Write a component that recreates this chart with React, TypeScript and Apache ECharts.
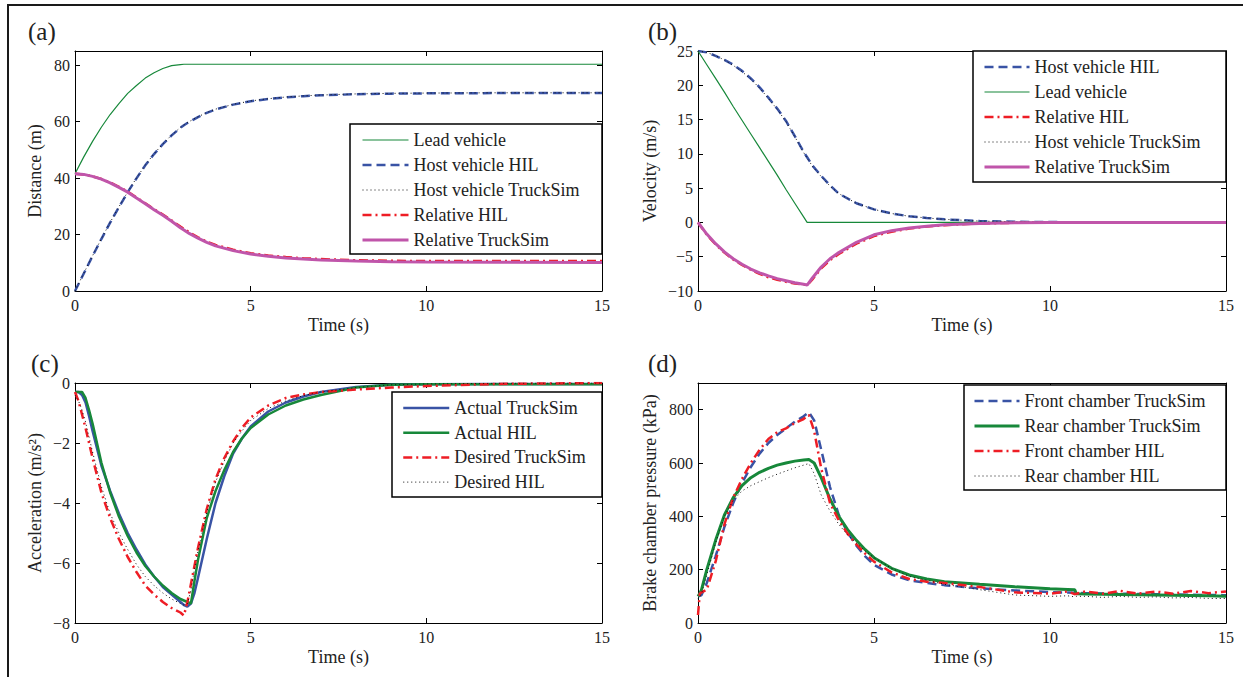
import React, { useEffect, useRef } from "react";
import * as echarts from "echarts";

const FONT = "'Liberation Serif', 'Times New Roman', serif";

// ---------- Panel (a): distance ----------
const tA = [0, 0.25, 0.5, 0.75, 1, 1.25, 1.5, 1.75, 2, 2.25, 2.5, 2.75, 3, 3.1, 3.25, 3.5, 3.75, 4, 4.5, 5, 5.5, 6, 6.5, 7, 8, 9, 10, 12, 15];
const leadDistance = [41.5, 47.5, 53, 58, 62.5, 66.4, 70, 72.8, 75.4, 77.3, 78.8, 79.8, 80.2, 80.3, 80.3, 80.3, 80.3, 80.3, 80.3, 80.3, 80.3, 80.3, 80.3, 80.3, 80.3, 80.3, 80.3, 80.3, 80.3];
const hostDistHIL = [0, 6.2, 12.4, 18.4, 24.2, 29.7, 35, 39.9, 44.5, 48.5, 52, 55.1, 57.8, 58.7, 59.9, 61.6, 63.1, 64.3, 66.0, 67.2, 68.0, 68.6, 69.0, 69.3, 69.7, 69.9, 70, 70.1, 70.1];
const hostDistTS = [0, 6.3, 12.5, 18.5, 24.3, 29.8, 35.1, 40.0, 44.6, 48.6, 52.1, 55.2, 57.9, 58.8, 60.0, 61.7, 63.2, 64.4, 66.1, 67.3, 68.1, 68.7, 69.1, 69.4, 69.8, 70, 70.1, 70.2, 70.2];
const relDistHIL = [41.5, 41.3, 40.6, 39.7, 38.4, 36.9, 35.2, 33.1, 31.1, 29.0, 27.1, 25.0, 22.8, 22.0, 20.8, 19.0, 17.5, 16.3, 14.6, 13.4, 12.6, 12.0, 11.6, 11.3, 10.9, 10.7, 10.6, 10.6, 10.6];
const relDistTS = [41.5, 41.3, 40.6, 39.6, 38.3, 36.7, 35.0, 32.9, 30.9, 28.8, 26.8, 24.7, 22.4, 21.6, 20.4, 18.7, 17.2, 16.0, 14.3, 13.1, 12.3, 11.7, 11.3, 11.0, 10.6, 10.4, 10.3, 10.2, 10.1];

// ---------- Panel (b): velocity ----------
const tB = [0, 0.25, 0.5, 0.75, 1, 1.25, 1.5, 1.75, 2, 2.25, 2.5, 2.75, 3, 3.1, 3.25, 3.5, 3.75, 4, 4.5, 5, 5.5, 6, 6.5, 7, 8, 9, 10, 12, 15];
const hostVelHIL = [25, 24.8, 24.3, 23.7, 23.0, 22.1, 21.0, 19.7, 18.2, 16.6, 14.8, 12.6, 10.3, 9.5, 8.3, 6.8, 5.4, 4.2, 2.8, 1.9, 1.3, 0.9, 0.65, 0.45, 0.2, 0.1, 0.05, 0, 0];
const hostVelTS = [25, 24.8, 24.3, 23.7, 22.9, 22.0, 20.9, 19.6, 18.1, 16.5, 14.7, 12.5, 10.2, 9.4, 8.2, 6.7, 5.3, 4.2, 2.8, 1.9, 1.3, 0.9, 0.65, 0.45, 0.2, 0.1, 0.05, 0, 0];
const leadVel = [25, 23, 21, 19, 16.9, 14.9, 12.9, 10.9, 8.9, 6.9, 4.8, 2.8, 0.8, 0, 0, 0, 0, 0, 0, 0, 0, 0, 0, 0, 0, 0, 0, 0, 0];
const relVelHIL = [0, -1.8, -3.2, -4.4, -5.4, -6.2, -6.9, -7.5, -8.0, -8.35, -8.65, -8.9, -9.05, -9.15, -8.3, -6.7, -5.5, -4.6, -3.1, -2.0, -1.35, -0.9, -0.6, -0.4, -0.15, -0.05, 0, 0, 0];
const relVelTS = [0, -1.7, -3.1, -4.3, -5.3, -6.1, -6.8, -7.35, -7.8, -8.2, -8.5, -8.8, -9.0, -9.15, -8.1, -6.5, -5.3, -4.4, -2.9, -1.8, -1.2, -0.8, -0.55, -0.35, -0.15, -0.05, 0, 0, 0];

// ---------- Panel (c): acceleration ----------
const tC = [0, 0.1, 0.2, 0.3, 0.4, 0.5, 0.75, 1, 1.25, 1.5, 1.75, 2, 2.25, 2.5, 2.75, 3, 3.1, 3.2, 3.3, 3.4, 3.5, 3.75, 4, 4.25, 4.5, 4.75, 5, 5.5, 6, 6.5, 7, 8, 9, 10, 12, 15];
const accActualTS = [-0.3, -0.3, -0.4, -0.65, -1.1, -1.6, -2.75, -3.6, -4.35, -5.0, -5.55, -6.05, -6.45, -6.8, -7.05, -7.3, -7.4, -7.45, -7.35, -7.0, -6.5, -5.2, -4.0, -3.1, -2.35, -1.85, -1.45, -0.95, -0.65, -0.45, -0.3, -0.13, -0.06, -0.04, -0.03, -0.03];
const accActualHIL = [-0.3, -0.3, -0.3, -0.5, -0.9, -1.35, -2.65, -3.65, -4.45, -5.1, -5.65, -6.1, -6.45, -6.75, -7.0, -7.2, -7.25, -7.3, -7.35, -6.6, -5.9, -4.5, -3.6, -2.9, -2.3, -1.85, -1.5, -1.05, -0.75, -0.55, -0.4, -0.15, -0.06, -0.04, -0.04, -0.04];
const accDesiredTS = [-0.3, -0.6, -1.05, -1.5, -2.0, -2.5, -3.65, -4.5, -5.2, -5.8, -6.3, -6.75, -7.05, -7.3, -7.5, -7.65, -7.75, -7.3, -6.7, -6.1, -5.5, -4.2, -3.2, -2.5, -1.95, -1.5, -1.15, -0.75, -0.5, -0.38, -0.3, -0.22, -0.15, -0.1, -0.03, 0];
const accDesiredHIL = [-0.4, -0.6, -0.9, -1.3, -1.8, -2.3, -3.45, -4.35, -5.0, -5.55, -6.05, -6.45, -6.75, -7.0, -7.2, -7.35, -7.4, -7.35, -6.9, -6.2, -5.6, -4.3, -3.3, -2.6, -2.0, -1.6, -1.25, -0.85, -0.6, -0.42, -0.3, -0.15, -0.06, -0.03, -0.01, 0];

// ---------- Panel (d): brake chamber pressure ----------
const tD = [0, 0.05, 0.1, 0.25, 0.5, 0.75, 1, 1.25, 1.5, 1.75, 2, 2.25, 2.5, 2.75, 3, 3.15, 3.3, 3.5, 3.75, 4, 4.25, 4.5, 4.75, 5, 5.5, 6, 6.5, 7, 8, 9, 10, 10.5, 10.7, 10.75, 11, 11.5, 12, 12.5, 13, 13.5, 14, 14.5, 15];
const frontTS = [100, 102, 105, 150, 250, 360, 450, 525, 585, 635, 675, 705, 730, 755, 775, 790, 760, 650, 510, 405, 340, 290, 250, 218, 182, 160, 150, 142, 130, 122, 116, 114, 113, 113, 112, 111, 110, 109, 108, 107, 106, 105, 104];
const rearTS = [100, 110, 125, 200, 310, 405, 470, 515, 545, 565, 580, 592, 600, 607, 611, 613, 600, 545, 465, 400, 350, 310, 275, 245, 205, 180, 165, 155, 145, 136, 128, 126, 125, 110, 109, 108, 107, 106, 105, 104, 103, 102, 100];
const frontHIL = [30, 110, 115, 125, 230, 370, 470, 540, 600, 650, 690, 715, 730, 750, 765, 780, 720, 580, 450, 385, 335, 295, 260, 230, 190, 165, 155, 150, 135, 115, 110, 118, 108, 110, 118, 110, 120, 110, 118, 110, 120, 112, 118];
const rearHIL = [90, 100, 110, 180, 300, 400, 460, 495, 515, 530, 545, 558, 570, 582, 592, 598, 560, 480, 420, 370, 330, 300, 270, 245, 205, 175, 160, 145, 125, 105, 100, 102, 98, 100, 100, 96, 100, 96, 98, 94, 96, 92, 92];

// ---------- axes ----------
const xTicks = { min: 0, max: 15, interval: 5 };
const yRanges = [
  { min: 0, max: 85, interval: 20 },
  { min: -10, max: 25, interval: 5 },
  { min: -8, max: 0, interval: 2 },
  { min: 0, max: 900, interval: 200 },
];
const yShowMax = [false, true, true, false];
const yNames = ["Distance (m)", "Velocity (m/s)", "Acceleration (m/s\u00B2)", "Brake chamber pressure (kPa)"];
const panelLabels = ["(a)", "(b)", "(c)", "(d)"];

const legendA = ["Lead vehicle", "Host vehicle HIL", "Host vehicle TruckSim", "Relative HIL", "Relative TruckSim"];
const legendB = ["Host vehicle HIL", "Lead vehicle", "Relative HIL", "Host vehicle TruckSim", "Relative TruckSim"];
const legendC = ["Actual TruckSim", "Actual HIL", "Desired TruckSim", "Desired HIL"];
const legendD = ["Front chamber TruckSim", "Rear chamber TruckSim", "Front chamber HIL", "Rear chamber HIL"];

const GREEN = "#17883a";
const BLUE = "#3953a5";
const RED = "#ee1d25";
const MAGENTA = "#c055aa";
const BLACK = "#111111";

const DASH = [9, 5];
const DASHDOT = [9, 4, 2, 4];
const DOT = [1, 3];

const fmt = (v: number) => (v < 0 ? "\u2212" + Math.abs(v) : String(v));

function mk(name: string, t: number[], v: number[], gi: number, color: string, width: number, type: any, z = 2) {
  return {
    type: "line",
    name,
    xAxisIndex: gi * 2,
    yAxisIndex: gi * 2,
    data: t.map((x, i) => [x, v[i]]),
    symbol: "none",
    color,
    lineStyle: { color, width, type },
    z,
    silent: true,
  };
}

export default function App() {
  const ref = useRef<HTMLDivElement>(null);
  useEffect(() => {
    document.body.style.margin = "0";
    if (!ref.current) return;
    const chart = echarts.init(ref.current, undefined, { renderer: "svg" });

    const grids = [
      { left: 75, top: 51, width: 527, height: 240 },
      { left: 698, top: 51, width: 528, height: 240 },
      { left: 75, top: 383, width: 527, height: 240 },
      { left: 698, top: 383, width: 528, height: 240 },
    ];
    const yGaps = [31, 39, 31, 39];

    const axisLine = { show: true, onZero: false, lineStyle: { color: "#000", width: 1 } };
    const axisTick = { show: true, inside: true, length: 5, lineStyle: { color: "#000", width: 1 } };
    const labelStyle = { fontFamily: FONT, fontSize: 16, color: "#222" };

    const xAxis: any[] = [];
    const yAxis: any[] = [];
    grids.forEach((_, i) => {
      xAxis.push({
        type: "value", gridIndex: i, ...xTicks, position: "bottom",
        axisLine, axisTick, splitLine: { show: false },
        axisLabel: { ...labelStyle, margin: 6, formatter: fmt },
        name: "Time (s)", nameLocation: "middle", nameGap: 25,
        nameTextStyle: { fontFamily: FONT, fontSize: 18, color: "#222" },
      });
      xAxis.push({
        type: "value", gridIndex: i, ...xTicks, position: "top",
        axisLine, axisTick, splitLine: { show: false }, axisLabel: { show: false },
      });
      yAxis.push({
        type: "value", gridIndex: i, ...yRanges[i], position: "left",
        axisLine, axisTick, splitLine: { show: false },
        axisLabel: { ...labelStyle, margin: 5, formatter: fmt, showMaxLabel: yShowMax[i] },
        name: yNames[i], nameLocation: "middle", nameGap: yGaps[i],
        nameTextStyle: { fontFamily: FONT, fontSize: 18, color: "#222" },
      });
      yAxis.push({
        type: "value", gridIndex: i, ...yRanges[i], position: "right",
        axisLine, axisTick, splitLine: { show: false }, axisLabel: { show: false },
      });
    });

    const series = [
      // (a)
      mk("Lead vehicle", tA, leadDistance, 0, GREEN, 1.2, "solid"),
      mk("Host vehicle HIL", tA, hostDistHIL, 0, BLUE, 2.5, DASH),
      mk("Host vehicle TruckSim", tA, hostDistTS, 0, BLACK, 1, DOT, 3),
      mk("Relative HIL", tA, relDistHIL, 0, RED, 2.5, DASHDOT),
      mk("Relative TruckSim", tA, relDistTS, 0, MAGENTA, 3, "solid", 3),
      // (b)
      mk("Host vehicle HIL", tB, hostVelHIL, 1, BLUE, 2.5, DASH),
      mk("Lead vehicle", tB, leadVel, 1, GREEN, 1.2, "solid"),
      mk("Host vehicle TruckSim", tB, hostVelTS, 1, BLACK, 1, DOT, 3),
      mk("Relative HIL", tB, relVelHIL, 1, RED, 2.5, DASHDOT),
      mk("Relative TruckSim", tB, relVelTS, 1, MAGENTA, 3, "solid", 3),
      // (c)
      mk("Actual TruckSim", tC, accActualTS, 2, BLUE, 2.5, "solid"),
      mk("Actual HIL", tC, accActualHIL, 2, GREEN, 2.5, "solid"),
      mk("Desired TruckSim", tC, accDesiredTS, 2, RED, 2.5, DASHDOT, 3),
      mk("Desired HIL", tC, accDesiredHIL, 2, BLACK, 1, DOT, 3),
      // (d)
      mk("Front chamber TruckSim", tD, frontTS, 3, BLUE, 2.5, DASH),
      mk("Rear chamber TruckSim", tD, rearTS, 3, GREEN, 3, "solid"),
      mk("Front chamber HIL", tD, frontHIL, 3, RED, 2.5, DASHDOT, 3),
      mk("Rear chamber HIL", tD, rearHIL, 3, BLACK, 1, DOT, 3),
    ];

    const legendBase = {
      orient: "vertical", align: "left", padding: 0, itemGap: 5,
      itemHeight: 20, selectedMode: false, z: 20,
      itemStyle: { opacity: 0, color: "rgba(0,0,0,0)", borderColor: "rgba(0,0,0,0)", borderWidth: 0 },
      lineStyle: { width: "inherit" },
      textStyle: { fontFamily: FONT, fontSize: 18, color: "#222", lineHeight: 20 },
    };
    const legend = [
      { ...legendBase, data: legendA, left: 361, top: 130, itemWidth: 46 },
      { ...legendBase, data: legendB, left: 983, top: 57, itemWidth: 45 },
      { ...legendBase, data: legendC, left: 402, top: 398, itemWidth: 46, itemGap: 4.7 },
      { ...legendBase, data: legendD, left: 973, top: 391, itemWidth: 45 },
    ];

    const boxes = [
      { x: 350, y: 124, w: 252, h: 130 },
      { x: 973, y: 51, w: 253, h: 131 },
      { x: 392, y: 392, w: 210, h: 105 },
      { x: 964, y: 385, w: 262, h: 105 },
    ];
    const labelPos = [
      { x: 28, y: 31 },
      { x: 648, y: 31 },
      { x: 31, y: 363 },
      { x: 648, y: 363 },
    ];

    const graphic: any[] = [
      { type: "line", z: 30, shape: { x1: 7, y1: 5, x2: 1243, y2: 5 }, style: { stroke: "#1a1a1a", lineWidth: 2 } },
      { type: "line", z: 30, shape: { x1: 8, y1: 4, x2: 8, y2: 677 }, style: { stroke: "#1a1a1a", lineWidth: 2 } },
      ...boxes.map((b) => ({
        type: "rect", z: 15,
        shape: { x: b.x, y: b.y, width: b.w, height: b.h },
        style: { fill: "#fff", stroke: "#000", lineWidth: 1.5 },
      })),
      ...panelLabels.map((s, i) => ({
        type: "text", z: 30, x: labelPos[i].x, y: labelPos[i].y,
        style: { text: s, fontFamily: FONT, fontSize: 25, fill: "#222", verticalAlign: "middle", align: "left" },
      })),
    ];

    chart.setOption({
      animation: false,
      backgroundColor: "#fff",
      grid: grids.map((g) => ({ ...g, containLabel: false })),
      xAxis,
      yAxis,
      legend,
      series,
      graphic,
    });
    return () => chart.dispose();
  }, []);
  return <div ref={ref} style={{ width: 1243, height: 677 }} />;
}
